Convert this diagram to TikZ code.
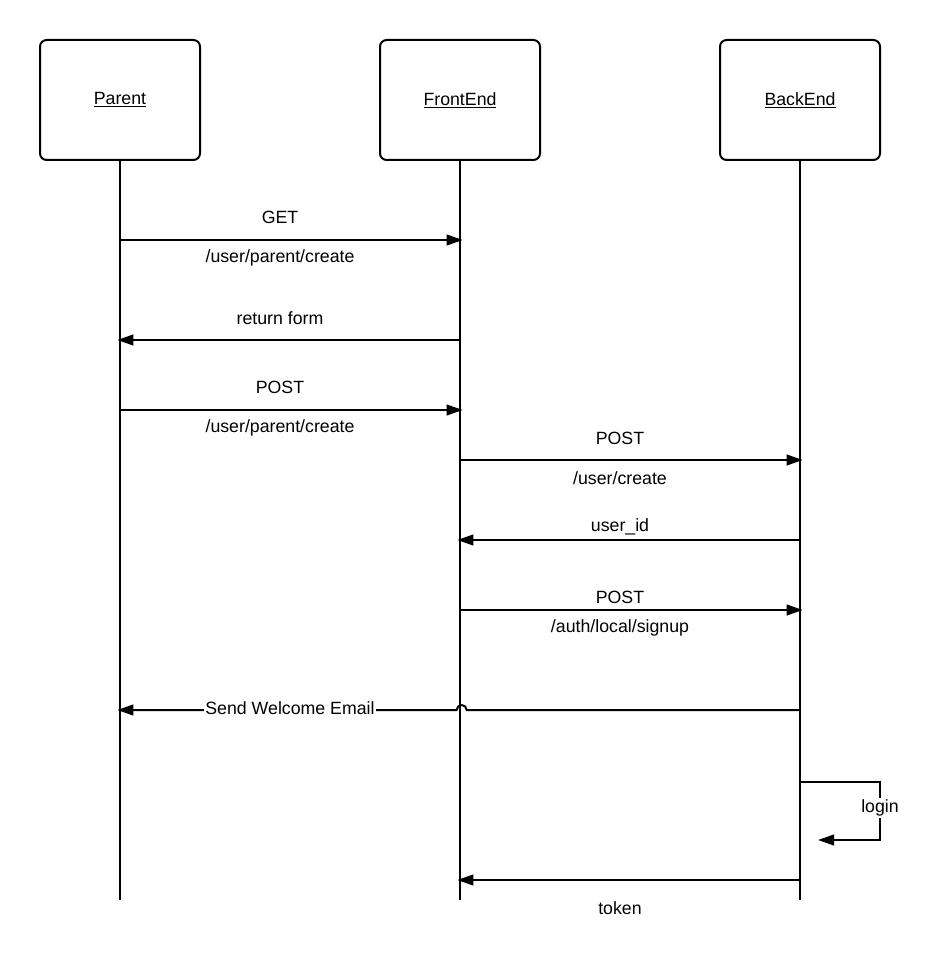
\documentclass[tikz,border=0pt]{standalone}
\usepackage{fontspec}
\setmainfont{Liberation Sans}
\usetikzlibrary{arrows.meta}
\begin{document}
\begin{tikzpicture}[x=0.75pt,y=-0.75pt,
  actor/.style={draw,line width=1.5pt,rounded corners=5pt,minimum width=120pt,minimum height=90pt,inner sep=0pt,font=\fontsize{13.3pt}{15pt}\selectfont},
  lifeline/.style={line width=1.5pt},
  msg/.style={line width=1.5pt,-{Triangle[length=12pt,width=8pt]}},
  lbl/.style={font=\fontsize{13.3pt}{15pt}\selectfont,inner sep=1pt}]
  \useasboundingbox (0,0) rectangle (939,980);
  % participants
  \node[actor] (parent) at (120,100) {\underline{Parent}};
  \node[actor] (front)  at (460,100) {\underline{FrontEnd}};
  \node[actor] (back)   at (800,100) {\underline{BackEnd}};
  % lifelines
  \coordinate (bottom) at (0,900);
  \draw[lifeline] (parent.south) -- (parent |- bottom);
  \draw[lifeline] (front.south) -- (front |- bottom);
  \draw[lifeline] (back.south) -- (back |- bottom);
  % message rows
  \coordinate (r1) at (0,240);
  \coordinate (r2) at (0,340);
  \coordinate (r3) at (0,410);
  \coordinate (r4) at (0,460);
  \coordinate (r5) at (0,540);
  \coordinate (r6) at (0,610);
  \coordinate (r7) at (0,710);
  \coordinate (r9) at (0,880);
  % GET form
  \draw[msg] (parent |- r1) -- ([xshift=2]front |- r1);
  \node[lbl] (l1a) at (280,217) {GET};
  \node[lbl] (l1b) at (280,258) {/user/parent/create};
  % form returned
  \draw[msg] (front |- r2) -- ([xshift=-2]parent |- r2);
  \node[lbl] (l2) at (280,318) {return form};
  % POST form
  \draw[msg] (parent |- r3) -- ([xshift=2]front |- r3);
  \node[lbl] (l3a) at (280,387) {POST};
  \node[lbl] (l3b) at (280,428) {/user/parent/create};
  % create user
  \draw[msg] (front |- r4) -- ([xshift=2]back |- r4);
  \node[lbl] (l4a) at (620,438) {POST};
  \node[lbl] (l4b) at (620,478) {/user/create};
  % user id
  \draw[msg] (back |- r5) -- ([xshift=-2]front |- r5);
  \node[lbl] (l5) at (620,527) {user\_id};
  % signup
  \draw[msg] (front |- r6) -- ([xshift=2]back |- r6);
  \node[lbl] (l6a) at (620,597) {POST};
  \node[lbl] (l6b) at (620,628) {/auth/local/signup};
  % welcome email, jumping over the FrontEnd lifeline
  \draw[msg] (back |- r7) -- ([xshift=5]front |- r7) arc (0:-180:5) -- ([xshift=-2]parent |- r7);
  \node[lbl,fill=white] (l7) at (290,708) {Send Welcome Email};
  % login self call
  \coordinate (s1) at (880,782);
  \coordinate (s2) at (880,840);
  \coordinate (s3) at (818,840);
  \draw[msg] (back |- s1) -- (s1) -- (s2) -- (s3);
  \node[lbl,fill=white] (l8) at (880,808) {login};
  % token
  \draw[msg] (back |- r9) -- ([xshift=-2]front |- r9);
  \node[lbl] (l9) at (620,908) {token};
\end{tikzpicture}
\end{document}
